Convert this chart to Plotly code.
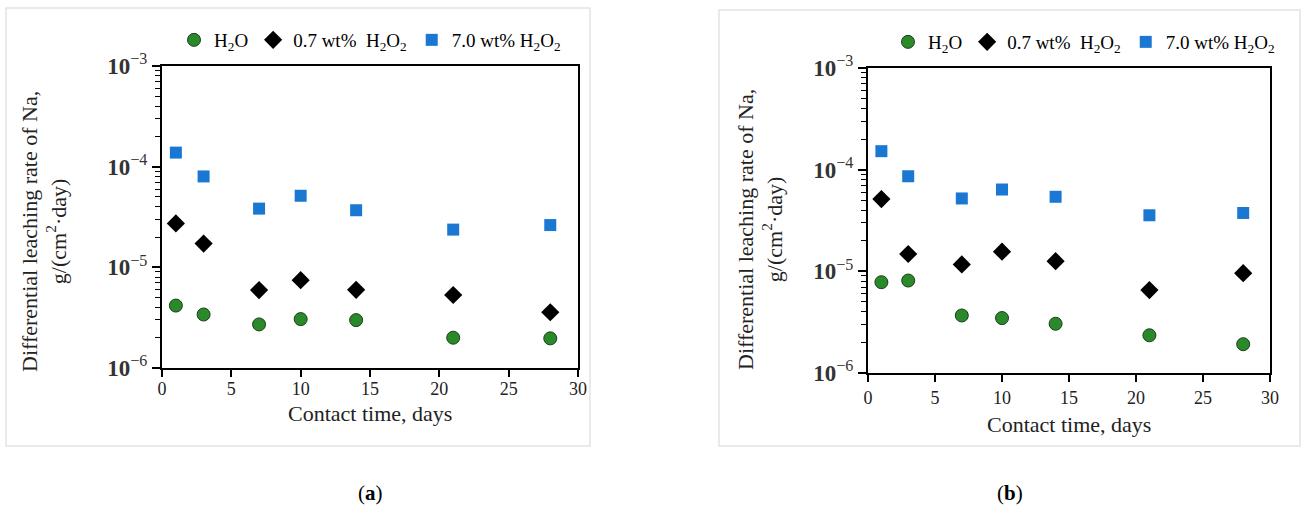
import plotly.graph_objects as go

W, H = 1301, 507

days = [1, 3, 7, 10, 14, 21, 28]

# Panel (a)
a_h2o = [4.17e-6, 3.40e-6, 2.71e-6, 3.06e-6, 2.99e-6, 2.00e-6, 1.97e-6]
a_07 = [2.73e-5, 1.72e-5, 5.94e-6, 7.45e-6, 5.98e-6, 5.31e-6, 3.58e-6]
a_70 = [1.38e-4, 8.0e-5, 3.83e-5, 5.14e-5, 3.69e-5, 2.37e-5, 2.63e-5]

# Panel (b)
b_h2o = [7.82e-6, 8.12e-6, 3.68e-6, 3.47e-6, 3.05e-6, 2.35e-6, 1.92e-6]
b_07 = [5.14e-5, 1.48e-5, 1.17e-5, 1.56e-5, 1.26e-5, 6.54e-6, 9.59e-6]
b_70 = [1.52e-4, 8.61e-5, 5.21e-5, 6.38e-5, 5.41e-5, 3.56e-5, 3.75e-5]

series_names = ["H<sub>2</sub>O", "0.7 wt%  H<sub>2</sub>O<sub>2</sub>", "7.0 wt% H<sub>2</sub>O<sub>2</sub>"]
x_ticks = [0, 5, 10, 15, 20, 25, 30]
y_ticks = [1e-6, 1e-5, 1e-4, 1e-3]
y_ticktext = ["<b>10</b><sup>−6</sup>", "<b>10</b><sup>−5</sup>", "<b>10</b><sup>−4</sup>", "<b>10</b><sup>−3</sup>"]
y_title = "Differential leaching rate of Na,<br>g/(cm<sup>2</sup>·day)"
x_title = "Contact time, days"

FONT = "Liberation Serif"
GREEN = "#2a8a2a"
BLUE = "#1a78d2"

def px(x):
    return x / W

def py(y):
    return 1 - y / H

fig = go.Figure()

styles = [
    dict(symbol="circle", size=13, color=GREEN, line=dict(color="#1d3d1d", width=1)),
    dict(symbol="diamond", size=14, color="black", line=dict(color="black", width=0)),
    dict(symbol="square", size=12, color=BLUE, line=dict(color=BLUE, width=0)),
]

for i, ys in enumerate([a_h2o, a_07, a_70]):
    fig.add_trace(go.Scatter(x=days, y=ys, mode="markers", name=series_names[i],
                             marker=styles[i], xaxis="x", yaxis="y", legend="legend"))
for i, ys in enumerate([b_h2o, b_07, b_70]):
    fig.add_trace(go.Scatter(x=days, y=ys, mode="markers", name=series_names[i],
                             marker=styles[i], xaxis="x2", yaxis="y2", legend="legend2"))

minor_vals = [k * 10 ** e for e in (-6, -5, -4) for k in range(2, 10)]

def xaxis(domain, anchor, standoff):
    return dict(domain=domain, anchor=anchor, range=[0, 30], tickvals=x_ticks,
                ticks="outside", ticklen=7, tickcolor="black", tickwidth=1.5,
                ticklabelstandoff=standoff,
                showline=True, linecolor="black", linewidth=2, mirror=True,
                showgrid=False, zeroline=False, automargin=False,
                tickfont=dict(family=FONT, size=18, color="#222"))

def yaxis(domain, anchor):
    return dict(domain=domain, anchor=anchor, type="log", range=[-6, -3],
                tickvals=y_ticks, ticktext=y_ticktext,
                ticks="outside", ticklen=8, tickcolor="black", tickwidth=1.5,
                minor=dict(tickvals=minor_vals, ticks="outside", ticklen=5,
                           tickcolor="black", tickwidth=1.2, showgrid=False),
                showline=True, linecolor="black", linewidth=2, mirror=True,
                showgrid=False, zeroline=False, automargin=False,
                tickfont=dict(family=FONT, size=23, color="#333"))

a_x = [px(162), px(578)]
a_y = [py(368), py(66)]
b_x = [px(868), px(1270)]
b_y = [py(373), py(68)]

legend_style = dict(orientation="h", xanchor="center", yanchor="middle",
                    font=dict(family=FONT, size=19, color="black"),
                    bgcolor="rgba(0,0,0,0)", itemwidth=30, tracegroupgap=0)

fig.update_layout(
    width=W, height=H,
    margin=dict(l=0, r=0, t=0, b=0),
    paper_bgcolor="white", plot_bgcolor="white",
    showlegend=True,
    xaxis=xaxis(a_x, "y", -4),
    yaxis=yaxis(a_y, "x"),
    xaxis2=xaxis(b_x, "y2", 0),
    yaxis2=yaxis(b_y, "x2"),
    legend=dict(x=px(370), y=py(40), **legend_style),
    legend2=dict(x=px(1084), y=py(42), **legend_style),
    shapes=[
        dict(type="rect", xref="paper", yref="paper", x0=px(6), x1=px(590), y0=py(446), y1=py(8),
             line=dict(color="#e3e3e3", width=1.5)),
        dict(type="rect", xref="paper", yref="paper", x0=px(719), x1=px(1300), y0=py(446), y1=py(10),
             line=dict(color="#e3e3e3", width=1.5)),
    ],
    annotations=[
        dict(text=y_title, x=px(44), y=py(232), xref="paper", yref="paper", textangle=-90,
             xanchor="center", yanchor="middle",
             showarrow=False, font=dict(family=FONT, size=22, color="#222"), align="center"),
        dict(text=y_title, x=px(760), y=py(230), xref="paper", yref="paper", textangle=-90,
             xanchor="center", yanchor="middle",
             showarrow=False, font=dict(family=FONT, size=22, color="#222"), align="center"),
        dict(text=x_title, x=px(370), y=py(413), xref="paper", yref="paper",
             xanchor="center", yanchor="middle",
             showarrow=False, font=dict(family=FONT, size=22, color="#222")),
        dict(text=x_title, x=px(1069), y=py(424), xref="paper", yref="paper",
             xanchor="center", yanchor="middle",
             showarrow=False, font=dict(family=FONT, size=22, color="#222")),
        dict(text="(<b>a</b>)", x=px(370), y=py(493), xref="paper", yref="paper",
             xanchor="center", yanchor="middle",
             showarrow=False, font=dict(family=FONT, size=21, color="black")),
        dict(text="(<b>b</b>)", x=px(1010), y=py(493), xref="paper", yref="paper",
             xanchor="center", yanchor="middle",
             showarrow=False, font=dict(family=FONT, size=21, color="black")),
    ],
)

fig.write_html("out.html")
